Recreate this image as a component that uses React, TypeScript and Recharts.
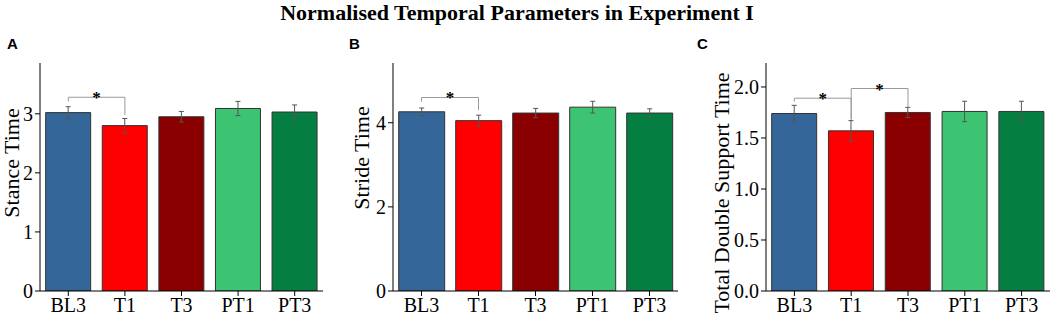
import React from 'react';
import { BarChart, Bar, XAxis, YAxis, ErrorBar, ReferenceLine, Cell } from 'recharts';

const categories = ['BL3', 'T1', 'T3', 'PT1', 'PT3'];
const barColors = ['#356699', '#ff0000', '#8a0000', '#3cc473', '#057f41'];

const stanceMean = [3.02, 2.8, 2.95, 3.09, 3.03];
const stanceErr = [0.1, 0.12, 0.09, 0.12, 0.12];
const strideMean = [4.26, 4.05, 4.23, 4.37, 4.23];
const strideErr = [0.09, 0.13, 0.11, 0.14, 0.1];
const doubleMean = [1.74, 1.57, 1.75, 1.76, 1.76];
const doubleErr = [0.08, 0.1, 0.05, 0.1, 0.1];

const stanceTicks = [0, 1, 2, 3];
const stanceMinor = [0.5, 1.5, 2.5, 3.5];
const strideTicks = [0, 2, 4];
const strideMinor = [1, 3, 5];
const doubleTicks = [0, 0.5, 1, 1.5, 2];
const doubleMinor = [0.25, 0.75, 1.25, 1.75];
const boundaryTicks = [0, 1, 2, 3, 4, 5];

// significance brackets: from, to, bar height, left drop end, right drop end
const stanceBrackets: [string, string, number, number, number][] = [['BL3', 'T1', 3.28, 3.21, 2.98]];
const strideBrackets: [string, string, number, number, number][] = [['BL3', 'T1', 4.6, 4.5, 4.3]];
const doubleBrackets: [string, string, number, number, number][] = [
  ['BL3', 'T1', 1.89, 1.856, 1.68],
  ['T1', 'T3', 1.985, 1.68, 1.8],
];

const serif = '"Liberation Serif", "Times New Roman", serif';

const Star = (props: any) => {
  const { viewBox } = props;
  if (!viewBox) return null;
  return (
    <text
      x={viewBox.x + viewBox.width / 2}
      y={viewBox.y + 6}
      textAnchor="middle"
      fontFamily={serif}
      fontSize={17}
      fontWeight="bold"
      fill="#000"
    >
      *
    </text>
  );
};

type PanelProps = {
  left: number;
  width: number;
  axisWidth: number;
  rightGap: number;
  means: number[];
  errs: number[];
  max: number;
  ticks: number[];
  minor: number[];
  fmt: (v: number) => string;
  brackets: [string, string, number, number, number][];
};

function Panel({ left, width, axisWidth, rightGap, means, errs, max, ticks, minor, fmt, brackets }: PanelProps) {
  const data = categories.map((name, i) => ({ name, value: means[i], err: errs[i] }));
  return (
    <div style={{ position: 'absolute', left, top: 0 }}>
      <BarChart
        width={width}
        height={318}
        data={data}
        margin={{ top: 63, right: rightGap, bottom: 0, left: 0 }}
        barCategoryGap="10%"
      >
        <XAxis
          xAxisId="minor"
          type="number"
          domain={[0, 5]}
          ticks={boundaryTicks}
          height={0}
          tick={false}
          tickSize={3}
          axisLine={false}
          tickLine={{ stroke: '#000' }}
          allowDataOverflow
        />
        <XAxis
          dataKey="name"
          height={27}
          tickSize={5}
          tickMargin={2}
          axisLine={{ stroke: '#000' }}
          tickLine={{ stroke: '#000' }}
          tick={{ fontSize: 20, fontFamily: serif, fill: '#000' }}
          interval={0}
        />
        <YAxis
          yAxisId="minor"
          width={0}
          domain={[0, max]}
          ticks={minor}
          tick={false}
          tickSize={3}
          axisLine={false}
          tickLine={{ stroke: '#000' }}
          allowDataOverflow
        />
        <YAxis
          width={axisWidth}
          domain={[0, max]}
          ticks={ticks}
          tickFormatter={fmt}
          tickSize={5}
          tickMargin={2}
          axisLine={{ stroke: '#000' }}
          tickLine={{ stroke: '#000' }}
          tick={{ fontSize: 20, fontFamily: serif, fill: '#000' }}
          allowDataOverflow
        />
        <Bar dataKey="value" stroke="#333" strokeWidth={1} isAnimationActive={false}>
          {data.map((d, i) => (
            <Cell key={d.name} fill={barColors[i]} />
          ))}
          <ErrorBar dataKey="err" width={2.5} stroke="#555" strokeWidth={1} isAnimationActive={false} />
        </Bar>
        {brackets.map((b, i) => (
          <React.Fragment key={i}>
            <ReferenceLine segment={[{ x: b[0], y: b[2] }, { x: b[1], y: b[2] }]} stroke="#999" label={Star} ifOverflow="visible" />
            <ReferenceLine segment={[{ x: b[0], y: b[2] }, { x: b[0], y: b[3] }]} stroke="#999" ifOverflow="visible" />
            <ReferenceLine segment={[{ x: b[1], y: b[2] }, { x: b[1], y: b[4] }]} stroke="#999" ifOverflow="visible" />
          </React.Fragment>
        ))}
      </BarChart>
    </div>
  );
}

const yLabels = [
  { text: 'Stance Time', x: 11, y: 163 },
  { text: 'Stride Time', x: 361, y: 158 },
  { text: 'Total Double Support Time', x: 721, y: 193 },
];
const letters = [
  { text: 'A', x: 7 },
  { text: 'B', x: 349 },
  { text: 'C', x: 697 },
];

export default function App() {
  return (
    <div style={{ position: 'absolute', left: 0, top: 0, width: 1052, height: 318, background: '#fff', overflow: 'hidden' }}>
      <Panel left={0} width={340} axisWidth={40} rightGap={17} means={stanceMean} errs={stanceErr} max={3.86}
        ticks={stanceTicks} minor={stanceMinor} fmt={(v) => String(v)} brackets={stanceBrackets} />
      <Panel left={340} width={350} axisWidth={53} rightGap={12} means={strideMean} errs={strideErr} max={5.42}
        ticks={strideTicks} minor={strideMinor} fmt={(v) => String(v)} brackets={strideBrackets} />
      <Panel left={690} width={362} axisWidth={76} rightGap={2} means={doubleMean} errs={doubleErr} max={2.235}
        ticks={doubleTicks} minor={doubleMinor} fmt={(v) => v.toFixed(1)} brackets={doubleBrackets} />
      <svg width={1052} height={318} style={{ position: 'absolute', left: 0, top: 0, pointerEvents: 'none' }}>
        <text x={517} y={20} textAnchor="middle" fontFamily={serif} fontSize={22} fontWeight="bold" fill="#000">
          Normalised Temporal Parameters in Experiment I
        </text>
        {letters.map((l) => (
          <text key={l.text} x={l.x} y={49} fontFamily='"Liberation Sans", Arial, sans-serif' fontSize={15} fontWeight="bold" fill="#000">
            {l.text}
          </text>
        ))}
        {yLabels.map((l) => (
          <text key={l.text} x={l.x} y={l.y} transform={`rotate(-90, ${l.x}, ${l.y})`} textAnchor="middle"
            dominantBaseline="central" fontFamily={serif} fontSize={22} fill="#000">
            {l.text}
          </text>
        ))}
      </svg>
    </div>
  );
}
